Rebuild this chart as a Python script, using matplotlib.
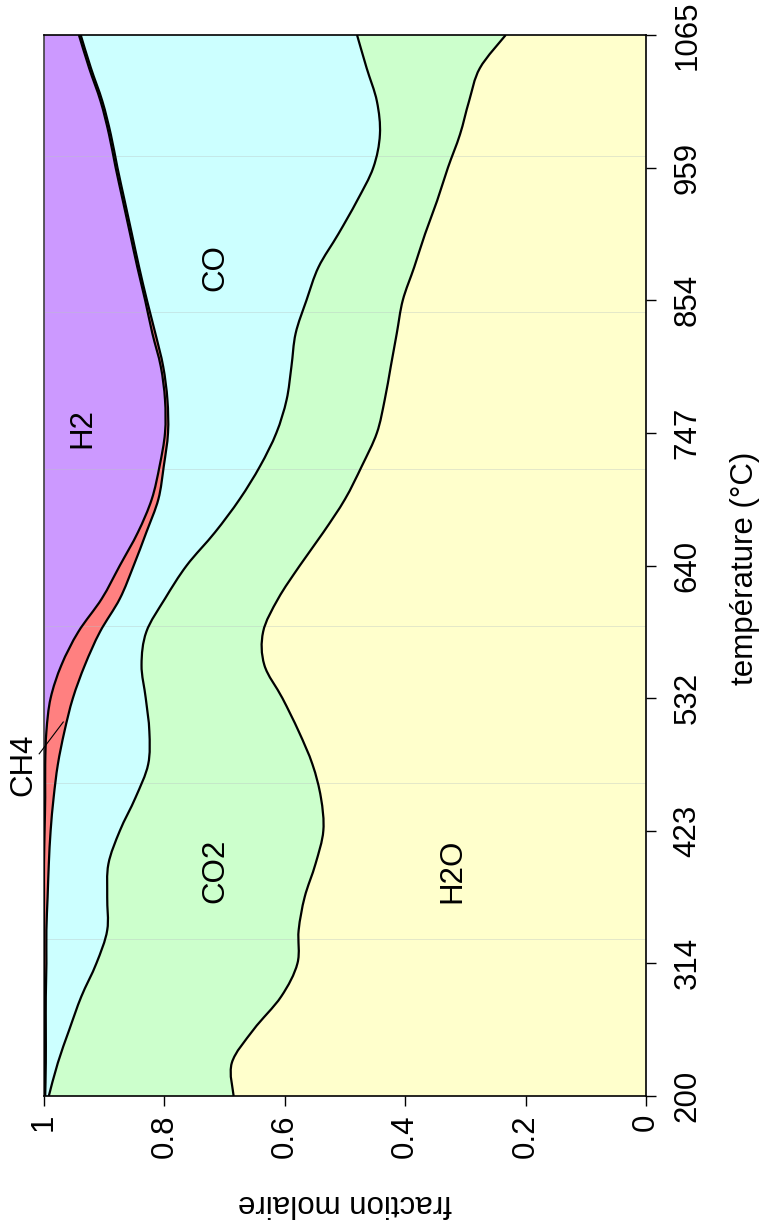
import matplotlib
matplotlib.use('Agg')
import matplotlib.pyplot as plt
from matplotlib.path import Path
from matplotlib.patches import PathPatch
import numpy as np

plt.rcParams['font.family'] = ['Liberation Sans', 'DejaVu Sans']

# temperature axis is a category axis: labels at positions 0..8
temp_labels = ['200', '314', '423', '532', '640', '747', '854', '959', '1065']
# sample positions along the temperature axis (every quarter label interval)
pos = np.arange(33) * 0.25

h2o = [0.685, 0.688, 0.652, 0.606, 0.579, 0.577, 0.567, 0.549, 0.536, 0.540,
       0.554, 0.577, 0.604, 0.634, 0.636, 0.611, 0.575, 0.536, 0.500, 0.472,
       0.447, 0.434, 0.424, 0.414, 0.404, 0.385, 0.367, 0.347, 0.329, 0.309,
       0.294, 0.276, 0.233]
co2 = [0.307, 0.289, 0.306, 0.332, 0.334, 0.318, 0.328, 0.344, 0.338, 0.308,
       0.273, 0.248, 0.227, 0.204, 0.194, 0.188, 0.188, 0.180, 0.175, 0.169,
       0.167, 0.163, 0.165, 0.168, 0.160, 0.159, 0.144, 0.133, 0.124, 0.133,
       0.153, 0.188, 0.247]
co = [0.006, 0.020, 0.039, 0.059, 0.083, 0.101, 0.099, 0.099, 0.115, 0.136,
      0.150, 0.141, 0.121, 0.094, 0.077, 0.075, 0.088, 0.114, 0.135, 0.160,
      0.180, 0.198, 0.213, 0.233, 0.265, 0.298, 0.343, 0.386, 0.425, 0.447,
      0.456, 0.458, 0.459]
ch4 = [0.002, 0.003, 0.003, 0.003, 0.004, 0.004, 0.006, 0.008, 0.010, 0.014,
       0.021, 0.030, 0.037, 0.039, 0.036, 0.030, 0.023, 0.014, 0.011, 0.007,
       0.005, 0.004, 0.004, 0.005, 0.003, 0.003, 0.003, 0.003, 0.003, 0.003,
       0.003, 0.003, 0.003]
h2 = [0.000, 0.000, 0.000, 0.000, 0.000, 0.000, 0.000, 0.000, 0.001, 0.002,
      0.002, 0.004, 0.011, 0.029, 0.057, 0.096, 0.126, 0.156, 0.179, 0.192,
      0.201, 0.201, 0.194, 0.180, 0.168, 0.155, 0.143, 0.131, 0.119, 0.108,
      0.094, 0.075, 0.058]

species = ['H2O', 'CO2', 'CO', 'CH4', 'H2']
colors = ['#FFFFCC', '#CCFFCC', '#CCFFFF', '#FF8080', '#CC99FF']


def smooth_path(x, y):
    # smoothed line through the data points (bezier segments, like excel)
    pts = np.column_stack([x, y])
    n = len(pts)
    verts = [pts[0]]
    codes = [Path.MOVETO]
    for i in range(n - 1):
        p0 = pts[max(i - 1, 0)]
        p1 = pts[i]
        p2 = pts[i + 1]
        p3 = pts[min(i + 2, n - 1)]
        verts += [p1 + (p2 - p0) / 6, p2 - (p3 - p1) / 6, p2]
        codes += [Path.CURVE4] * 3
    return verts, codes


fig = plt.figure(figsize=(7.6, 12.3), dpi=100)
ax = fig.add_axes([44/760, 1-1096/1230, 602/760, 1061/1230])

base = np.zeros(len(pos))
tops = []
for vals, c in zip([h2o, co2, co, ch4, h2], colors):
    top = base + np.array(vals)
    v1, c1 = smooth_path(top, pos)
    v2, c2 = smooth_path(base[::-1], pos[::-1])
    c2[0] = Path.LINETO
    verts = v1 + v2 + [v1[0]]
    codes = c1 + c2 + [Path.CLOSEPOLY]
    ax.add_patch(PathPatch(Path(verts, codes), facecolor=c, edgecolor=c,
                           lw=0.3, zorder=1))
    tops.append(top)
    base = top

# faint horizontal gridlines
for g in [13/11*k for k in range(1, 7)]:
    ax.axhline(g, color='#b8c4c4', lw=0.6, alpha=0.45, zorder=2)

for top in tops[:-1]:
    v, c = smooth_path(top, pos)
    ax.add_patch(PathPatch(Path(v, c), facecolor='none', edgecolor='black',
                           lw=1.6, zorder=3))

ax.set_xlim(1, 0)
ax.set_ylim(0, 8)

ax.set_xticks([1, 0.8, 0.6, 0.4, 0.2, 0])
ax.set_xticklabels(['1', '0.8', '0.6', '0.4', '0.2', '0'], rotation=90, fontsize=22.5)
ax.yaxis.tick_right()
ax.set_yticks(range(9))
ax.set_yticklabels(temp_labels, rotation=90, va='center', fontsize=22.5)
ax.tick_params(axis='x', direction='out', length=7, width=1, pad=6)
ax.tick_params(axis='y', direction='out', length=7, width=1, pad=12)

for s in ['top', 'bottom', 'right']:
    ax.spines[s].set_color('black')
    ax.spines[s].set_linewidth(1.2)
ax.spines['left'].set_color('#404040')
ax.spines['left'].set_linewidth(1.2)

# species labels
ax.text(0.937, 5.04, 'H2', rotation=90, fontsize=22.5, ha='center', va='center', zorder=5)
ax.text(0.716, 6.245, 'CO', rotation=90, fontsize=22.5, ha='center', va='center', zorder=5)
ax.text(0.716, 1.70, 'CO2', rotation=90, fontsize=22.5, ha='center', va='center', zorder=5)
ax.text(0.322, 1.70, 'H2O', rotation=90, fontsize=22.5, ha='center', va='center', zorder=5)
ax.text(1.034, 2.50, 'CH4', rotation=90, fontsize=22.5, ha='center', va='center',
        clip_on=False, zorder=5)
ax.plot([1.008, 0.968], [2.58, 2.82], color='black', lw=0.8, clip_on=False, zorder=5)

fig.text(345/760, 1-1203/1230, 'fraction molaire', rotation=180, fontsize=22.5,
         ha='center', va='center')
fig.text(745/760, 1-568/1230, 'température (°C)', rotation=90, fontsize=22.5,
         ha='center', va='center')

plt.savefig('out.png', dpi=100)
